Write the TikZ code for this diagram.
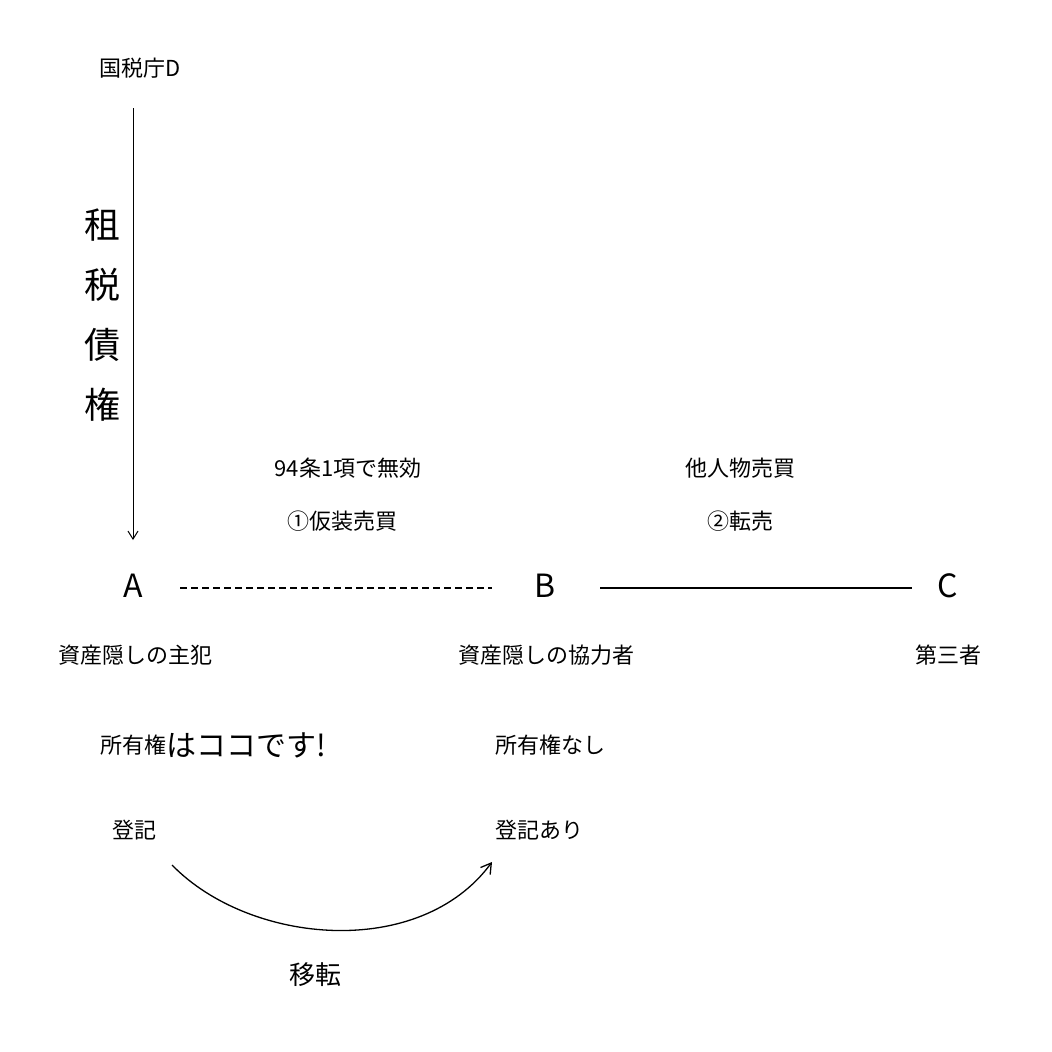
\documentclass[tikz,border=0pt]{standalone}
\usepackage{fontspec}
\usetikzlibrary{arrows.meta}
\setmainfont{Noto Sans CJK JP}
\begin{document}
\begin{tikzpicture}[x=1pt,y=-1pt,
 lbl/.style={font=\fontsize{22}{26}\selectfont,inner sep=0pt},
 big/.style={font=\fontsize{32}{36}\selectfont,inner sep=0pt},
 hand/.style={font=\fontsize{36}{40}\selectfont,inner sep=0pt}]
\useasboundingbox[fill=white] (0,0) rectangle (1052,1052);
\node[lbl] (D) at (140,68) {国税庁D};
\node[big] (A) at (133,586) {A};
\node[big] (B) at (545,586) {B};
\node[big] (C) at (948,586) {C};
\coordinate (dtop) at (133,108);
\coordinate (dbot) at (133,540);
\draw[-{Straight Barb[length=8pt,width=10pt]},line width=1pt] (dtop) -- (dbot);
\node[hand,align=center] (tax) at (102,315) {租\\[20pt]税\\[20pt]債\\[20pt]権};
\draw[line width=2pt,dash pattern=on 7pt off 4pt] (180,588) -- (492,588);
\draw[line width=2.2pt] (600,588) -- (912,588);
\node[lbl] (l1) at (348,468) {94条1項で無効};
\node[lbl] (l2) at (342,521) {①仮装売買};
\node[lbl] (l3) at (740,468) {他人物売買};
\node[lbl] (l4) at (740,521) {②転売};
\node[lbl] (a1) at (135,655) {資産隠しの主犯};
\node[lbl] (b1) at (546,655) {資産隠しの協力者};
\node[lbl] (c1) at (948,655) {第三者};
\node[lbl,anchor=west] (a2) at (100,745) {所有権};
\node[font=\fontsize{30}{34}\selectfont,inner sep=0pt,anchor=west] (a3) at (a2.east) {はココです!};
\node[lbl,anchor=west] (b2) at (495,745) {所有権なし};
\node[lbl] (a4) at (134,830) {登記};
\node[lbl,anchor=west] (b3) at (495,830) {登記あり};
\coordinate (cs) at (172,865);
\coordinate (ce) at (492,862);
\draw[-{Straight Barb[length=10pt,width=12pt]},line width=1.3pt] (cs) .. controls (250,945) and (420,960) .. (ce);
\node[font=\fontsize{26}{30}\selectfont,inner sep=0pt] (mv) at (315,975) {移転};
\end{tikzpicture}
\end{document}
